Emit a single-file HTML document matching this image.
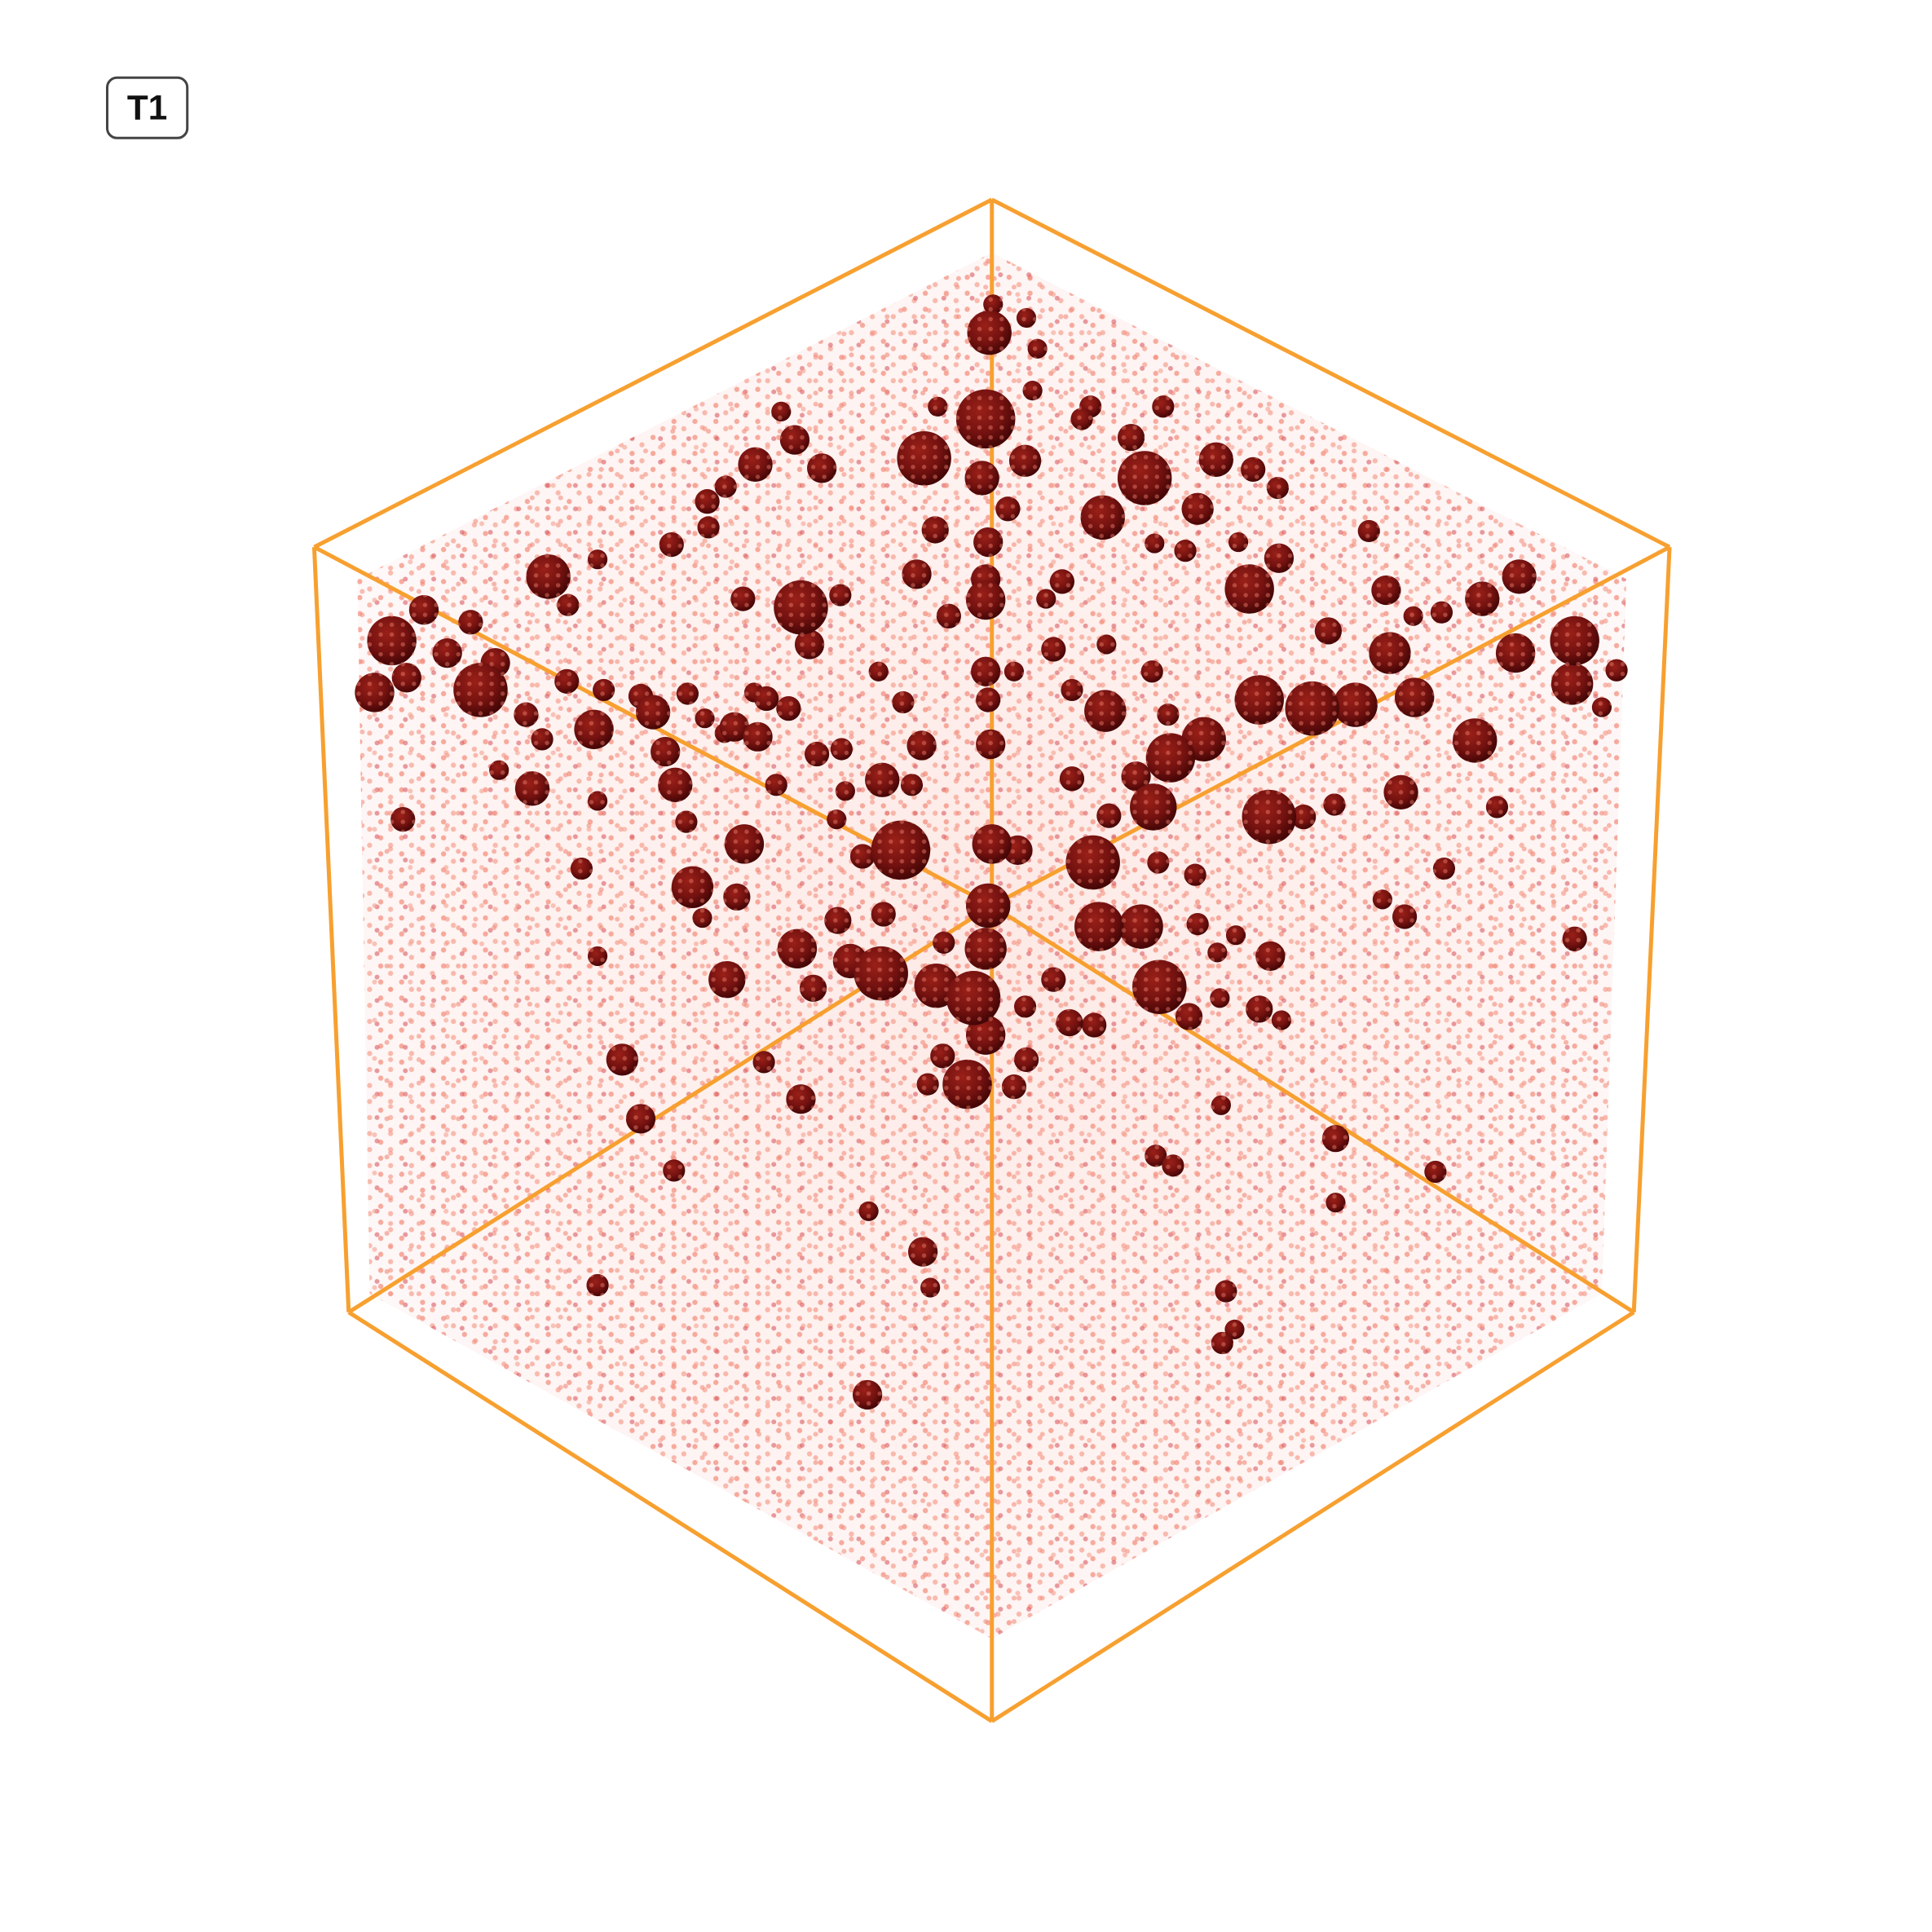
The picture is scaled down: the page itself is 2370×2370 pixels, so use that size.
<!DOCTYPE html>
<html><head><meta charset="utf-8"><style>
html,body{margin:0;padding:0;background:#fff;}
svg{display:block;}
</style></head><body>
<svg id="chart" width="2370" height="2370" viewBox="0 0 1568 1568" xmlns="http://www.w3.org/2000/svg">
<defs>
<radialGradient id="sph" cx="40%" cy="35%" r="65%">
<stop offset="0" stop-color="#9a2018"/><stop offset="0.6" stop-color="#741210"/><stop offset="1" stop-color="#440606"/>
</radialGradient>
<radialGradient id="haze" cx="50%" cy="50%" r="55%">
<stop offset="0" stop-color="#f7a394" stop-opacity="0.6"/><stop offset="0.7" stop-color="#f7a89a" stop-opacity="0.35"/><stop offset="1" stop-color="#e88a8a" stop-opacity="0.15"/>
</radialGradient>
<pattern id="dots1" width="17" height="13" patternUnits="userSpaceOnUse">
<circle cx="3" cy="4" r="2.1" fill="#f48a78" opacity="0.7"/><circle cx="11" cy="10" r="2.1" fill="#f69a88" opacity="0.65"/>
</pattern>
<pattern id="dots2" width="23" height="19" patternUnits="userSpaceOnUse">
<circle cx="7" cy="14" r="2" fill="#d85a62" opacity="0.6"/><circle cx="18" cy="5" r="2" fill="#f3907e" opacity="0.6"/>
</pattern>
<pattern id="dots3" width="29" height="31" patternUnits="userSpaceOnUse">
<circle cx="14" cy="22" r="2" fill="#f5a090" opacity="0.6"/><circle cx="24" cy="9" r="2" fill="#f08878" opacity="0.6"/>
</pattern>
<pattern id="speck" width="9" height="8" patternUnits="userSpaceOnUse">
<circle cx="3" cy="3" r="1.8" fill="#f08070" opacity="0.45"/>
</pattern>
<clipPath id="cloud"><polygon points="805,205 1320,470 1300,1050 805,1330 300,1050 290,470"/></clipPath>
</defs>
<rect width="1568" height="1568" fill="#fff"/>
<g id="haze-layer" clip-path="url(#cloud)">
<polygon points="805,205 1320,470 1300,1050 805,1330 300,1050 290,470" fill="url(#haze)" opacity="0.4"/>
<rect x="0" y="0" width="1568" height="1568" fill="url(#dots1)"/>
<rect x="0" y="0" width="1568" height="1568" fill="url(#dots2)"/>
<rect x="0" y="0" width="1568" height="1568" fill="url(#dots3)"/>
</g>
<g id="cube" stroke="#f7a030" stroke-width="3.3" fill="none"></g>
<g id="spheres"></g>
<g>
<rect x="87" y="63" width="65" height="49" rx="8" fill="#fff" stroke="#444" stroke-width="2"/>
<text x="119.5" y="97" text-anchor="middle" font-family="Liberation Sans, sans-serif" font-weight="bold" font-size="28" fill="#111">T1</text>
</g>
</svg>
<script>
const cubeVerts = [[805,162],[255,444],[1355,444],[283,1065],[1326,1065],[805,1397],[805,735]];
const cubeEdges = [[0,1],[0,2],[1,3],[2,4],[3,5],[4,5],[6,0],[6,1],[6,2],[6,3],[6,4],[6,5]];
const sphereX = [803,800,750,613,645,667,574,589,929,895,972,987,1017,1037,1014,832,797,818,759,802,744,445,485,461,545,575,650,657,603,682,800,800,770,862,1078,1111,1125,1128,1147,1170,1203,1233,1278,1276,1312,1300,1230,1197,1148,1100,1065,1022,977,950,936,922,897,870,1030,1058,1137,1083,1215,1172,1140,1278,1122,318,344,304,330,390,402,382,363,427,440,482,460,490,530,520,540,548,432,405,327,485,557,596,615,622,640,604,630,663,683,716,740,748,733,713,731,700,804,802,800,823,805,826,802,800,790,800,785,823,833,765,753,766,760,715,690,647,680,717,590,660,562,598,570,472,485,505,520,547,620,650,705,749,755,485,704,887,900,855,868,888,832,892,926,941,940,970,972,988,1003,1031,965,1022,1040,990,991,938,952,995,1002,992,1084,1084,1165,1038,1005,937,962,918,944,885,878,838,634,761,833,842,806,855,898,935,948,870,849,558,572,588,612,686,679];
const sphereY = [270,340,372,377,357,380,407,395,388,420,413,373,381,396,478,374,388,413,430,440,466,468,454,491,442,428,493,523,486,483,487,470,500,472,512,431,479,530,500,497,486,468,520,555,544,574,530,601,566,572,575,568,600,615,655,630,577,632,663,663,643,653,655,705,744,762,730,520,495,562,550,560,538,505,530,580,600,592,553,560,578,565,610,637,640,625,665,650,667,590,598,567,575,685,637,612,608,633,637,605,570,545,690,695,604,568,545,545,685,690,735,770,810,840,880,882,860,857,880,765,800,790,780,770,747,742,795,802,720,728,745,705,776,860,908,950,862,892,983,1016,1045,1043,1132,700,662,795,830,832,817,752,752,801,700,710,750,773,759,776,825,819,828,810,897,938,946,1048,1079,1090,924,976,951,453,440,441,447,355,330,330,340,317,334,330,258,283,247,527,523,545,580,560,486,563,583,595,562,642,665];
const sphereSize = [18,24,22,14,12,12,10,9,22,18,13,14,10,9,20,13,14,10,11,12,12,18,8,9,10,9,22,12,10,9,16,12,10,10,11,9,12,17,8,9,14,14,20,17,9,8,16,18,16,18,22,20,18,20,19,12,17,10,22,10,14,9,9,9,10,10,8,20,12,16,12,22,12,10,12,10,9,16,10,9,14,10,12,14,14,8,10,8,9,12,12,10,10,16,9,10,9,14,9,12,9,8,24,10,12,10,12,8,16,12,18,17,22,16,20,10,10,10,9,9,18,22,14,16,11,10,15,11,17,11,8,9,8,13,12,9,9,12,8,12,8,9,12,22,10,10,11,10,9,20,18,22,9,9,9,8,8,12,11,11,8,8,8,9,9,9,8,9,11,8,9,12,8,8,9,11,9,9,9,8,8,8,8,8,8,10,8,9,9,9,8,9,8,8,8,8,8];
const NS='http://www.w3.org/2000/svg';
const cube=document.getElementById('cube');
cubeEdges.forEach(function(e){
  const l=document.createElementNS(NS,'line');
  l.setAttribute('x1',cubeVerts[e[0]][0]);l.setAttribute('y1',cubeVerts[e[0]][1]);
  l.setAttribute('x2',cubeVerts[e[1]][0]);l.setAttribute('y2',cubeVerts[e[1]][1]);
  
  
  cube.appendChild(l);
});
const sg=document.getElementById('spheres');
const n=Math.min(sphereX.length,sphereY.length,sphereSize.length);
const order=[];for(let i=0;i<n;i++)order.push(i);
order.sort(function(a,b){return sphereSize[a]-sphereSize[b];});
order.forEach(function(i){
  const c=document.createElementNS(NS,'circle');
  c.setAttribute('cx',sphereX[i]);c.setAttribute('cy',sphereY[i]);c.setAttribute('r',sphereSize[i]);
  c.setAttribute('fill','url(#sph)');
  
  
  sg.appendChild(c);
  const s=document.createElementNS(NS,'circle');
  s.setAttribute('cx',sphereX[i]);s.setAttribute('cy',sphereY[i]);s.setAttribute('r',sphereSize[i]);
  s.setAttribute('fill','url(#speck)');
  
  
  sg.appendChild(s);
});
</script>
</body></html>
